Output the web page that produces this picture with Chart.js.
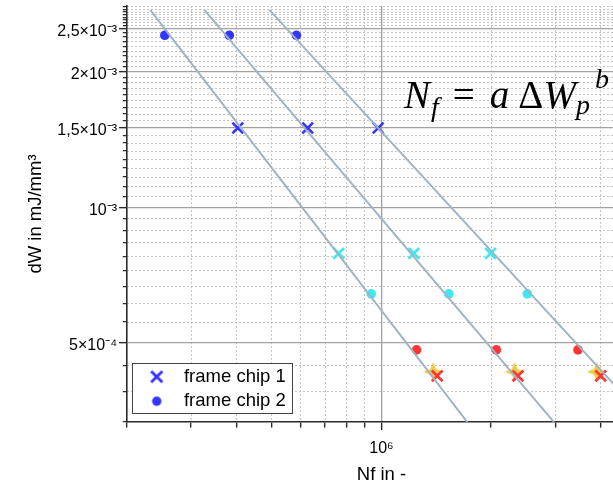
<!DOCTYPE html>
<html><head><meta charset="utf-8">
<script src="https://cdn.jsdelivr.net/npm/chart.js@4.4.1/dist/chart.umd.min.js"></script>
<style>
html,body{margin:0;padding:0;background:#fff;overflow:hidden;width:613px;height:488px;position:relative}
#wrap{position:absolute;left:0;top:0;width:636px;height:488px}
#eq{position:absolute;left:404px;top:75px;font-family:'Liberation Serif',serif;font-size:39px;line-height:40px;white-space:nowrap;color:#000}
#eq i{font-style:italic}
#eq .s1{font-size:28px;position:relative;top:8px;margin-left:1px}
#eq .op{margin:0 15px 0 14px}
#eq .dl{margin-left:9px}
#eq .s2{font-size:28px;position:relative;top:6px}
#eq .s3{font-size:28px;position:relative;top:-20px;margin-left:5px}
</style></head><body>
<div id="wrap"><canvas id="c" width="636" height="488"></canvas></div>
<div id="eq"><i>N</i><i class="s1">f</i><span class="op">=</span><i>a</i><span class="dl">Δ</span><i>W</i><i class="s2">p</i><i class="s3">b</i></div>
<script>
// ---- axis ranges & ticks ----
const xRange = [2e5, 5e6];
const yRange = [3.3333e-4, 2.8e-3];
const xMajorTicks = [1e6];
const xMajorLabels = ['10⁶'];
const xMinorTicks = [2e5, 3e5, 4e5, 5e5, 6e5, 7e5, 8e5, 9e5, 2e6, 3e6, 4e6];
const yMajorTicks = [5e-4, 1e-3, 1.5e-3, 2e-3, 2.5e-3];
const yMajorLabels = ['5×10⁻⁴', '10⁻³', '1,5×10⁻³', '2×10⁻³', '2,5×10⁻³'];
const yMinorPerMajor = 9;       // subdivisions between major ticks
const yMinorTopStep = 0.5e-3 / 14;

// ---- series ----
const chip1X = [4.03e5, 6.27e5, 9.79e5];
const chip1Y = [1.5e-3, 1.5e-3, 1.5e-3];
const chip2X = [2.54e5, 3.82e5, 5.84e5];
const chip2Y = [2.41e-3, 2.41e-3, 2.41e-3];
const cyanCrossX = [7.63e5, 1.227e6, 1.993e6];
const cyanCrossY = [7.90e-4, 7.90e-4, 7.90e-4];
const cyanDotX = [9.37e5, 1.531e6, 2.515e6];
const cyanDotY = [6.42e-4, 6.42e-4, 6.42e-4];
const redDotX = [1.248e6, 2.067e6, 3.464e6];
const redDotY = [4.82e-4, 4.82e-4, 4.82e-4];
const redCrossX = [1.422e6, 2.370e6, 4.0e6];
const redCrossY = [4.22e-4, 4.22e-4, 4.22e-4];
const starX = [1.387e6, 2.321e6, 3.90e6];
const starY = [4.31e-4, 4.31e-4, 4.31e-4];
const fit1X = [2.317e5, 1.72e6];
const fit1Y = [2.746e-3, 3.332e-4];
const fit2X = [3.262e5, 2.976e6];
const fit2Y = [2.746e-3, 3.332e-4];
const fit3X = [4.92e5, 4.5e6];
const fit3Y = [2.746e-3, 3.923e-4];
const legendLabels = ['frame chip 1', 'frame chip 2'];

// ---- derived tick lists ----
function subdiv(a, b, n) { const o = []; for (let k = 1; k < n; k++) o.push(a + (b - a) * k / n); return o; }
let yMinorTicks = [yRange[0], 3.8889e-4, 4.4444e-4];
for (let i = 0; i < yMajorTicks.length - 1; i++) yMinorTicks = yMinorTicks.concat(subdiv(yMajorTicks[i], yMajorTicks[i + 1], yMinorPerMajor));
for (let v = 2.5e-3 + yMinorTopStep; v < yRange[1]; v += yMinorTopStep) yMinorTicks.push(v);
const isMajorY = v => yMajorTicks.some(m => Math.abs(m - v) / m < 1e-6);
const isMajorX = v => xMajorTicks.some(m => Math.abs(m - v) / m < 1e-6);

const pts = (xs, ys) => xs.map((x, i) => ({x, y: ys[i]}));

// ---- marker images ----
function mk(w, h, fn) { const c = document.createElement('canvas'); c.width = w; c.height = h; fn(c.getContext('2d')); return c; }
const BLUE = '#3434ff', CYAN = '#3fe9f3', RED = '#ff3434', FITC = 'rgb(158,180,197)';
const crossImg = mk(16, 16, g => { g.strokeStyle = BLUE; g.lineWidth = 2.8; g.beginPath(); g.moveTo(2.4, 2.4); g.lineTo(13.6, 13.6); g.moveTo(13.6, 2.4); g.lineTo(2.4, 13.6); g.stroke(); });
const dotImg = mk(12, 12, g => { g.fillStyle = BLUE; g.beginPath(); g.arc(6, 6, 4.7, 0, Math.PI * 2); g.fill(); });
const starImg = mk(22, 22, g => {
  g.fillStyle = 'rgba(232,192,28,0.82)'; g.beginPath();
  const cx = 11, cy = 11, R = 10, r = 4;
  for (let k = 0; k < 8; k++) { const a = -Math.PI / 2 + k * Math.PI / 4; const rr = k % 2 ? r : R; const px = cx + rr * Math.cos(a), py = cy + rr * Math.sin(a); k ? g.lineTo(px, py) : g.moveTo(px, py); }
  g.closePath(); g.fill();
});

Chart.defaults.font.family = "'Liberation Sans', Arial, sans-serif";
Chart.defaults.color = '#000';

const legendPlacer = {
  id: 'legendPlacer',
  afterLayout(chart) {
    const lg = chart.legend; if (!lg) return;
    lg.left = 132.7; lg.top = 361.5; lg.width = 200; lg.height = 120;
    lg.right = lg.left + lg.width; lg.bottom = lg.top + lg.height;
    if (!lg._boxPatched) {
      const orig = lg.draw;
      lg.draw = function (area) {
        const ctx = this.ctx; ctx.save();
        ctx.fillStyle = '#fff'; ctx.fillRect(132.5, 363.5, 160, 50);
        ctx.strokeStyle = '#444'; ctx.lineWidth = 1; ctx.strokeRect(132.5, 363.5, 160, 50);
        ctx.restore();
        orig.call(this, area);
      };
      lg._boxPatched = true;
    }
  }
};

const lineDs = (xs, ys, lbl) => ({ label: lbl, data: pts(xs, ys), showLine: true, borderColor: FITC, borderWidth: 2, pointRadius: 0, fill: false });
const markDs = (xs, ys, lbl, style, color, r) => ({
  label: lbl, data: pts(xs, ys), pointStyle: style, pointRadius: r,
  borderColor: color, backgroundColor: color, borderWidth: style === 'circle' ? 0 : 2.6
});
const tickFontY = c => (c.tick && isMajorY(c.tick.value)) ? { size: 16 } : { size: 1 };
const tickFontX = c => (c.tick && isMajorX(c.tick.value)) ? { size: 16 } : { size: 1 };

new Chart(document.getElementById('c'), {
  type: 'scatter',
  data: {
    datasets: [
      lineDs(fit1X, fit1Y, 'fit 1'),
      lineDs(fit2X, fit2Y, 'fit 2'),
      lineDs(fit3X, fit3Y, 'fit 3'),
      markDs(redCrossX, redCrossY, 'red crosses', 'crossRot', RED, 7.6),
      markDs(starX, starY, 'stars', starImg, '#e8c01c', 9),
      markDs(chip1X, chip1Y, legendLabels[0], 'crossRot', BLUE, 7.6),
      markDs(chip2X, chip2Y, legendLabels[1], 'circle', BLUE, 4.8),
      markDs(cyanCrossX, cyanCrossY, 'cyan crosses', 'crossRot', CYAN, 7.6),
      markDs(cyanDotX, cyanDotY, 'cyan dots', 'circle', CYAN, 4.8),
      markDs(redDotX, redDotY, 'red dots', 'circle', RED, 4.8)
    ]
  },
  options: {
    responsive: false, animation: false, events: [],
    layout: { autoPadding: false, padding: { top: 6, right: 0, left: 0, bottom: 0 } },
    plugins: {
      tooltip: { enabled: false },
      legend: {
        position: 'chartArea', align: 'start',
        labels: {
          usePointStyle: true, pointStyleWidth: 36, boxHeight: 12, padding: 6,
          font: { size: 18.5 }, color: '#000',
          generateLabels: () => [
            { text: legendLabels[0], pointStyle: crossImg, fillStyle: BLUE, strokeStyle: BLUE, lineWidth: 0, hidden: false, datasetIndex: 5 },
            { text: legendLabels[1], pointStyle: dotImg, fillStyle: BLUE, strokeStyle: BLUE, lineWidth: 0, hidden: false, datasetIndex: 6 }
          ]
        }
      }
    },
    scales: {
      x: {
        type: 'logarithmic', position: 'bottom', min: xRange[0], max: xRange[1], bounds: 'data',
        afterBuildTicks: s => { s.ticks = xMinorTicks.concat(xMajorTicks).sort((a, b) => a - b).map(v => ({ value: v })); },
        afterFit: s => { s.height = 66; },
        ticks: { autoSkip: false, maxRotation: 0, padding: 9, font: tickFontX, color: '#000',
          callback: v => { const i = xMajorTicks.findIndex(m => Math.abs(m - v) / m < 1e-6); return i >= 0 ? xMajorLabels[i] : ''; } },
        grid: {
          color: c => (c.tick && isMajorX(c.tick.value)) ? '#a2a2a2' : 'rgba(0,0,0,0)',
          lineWidth: 1.3, tickLength: 8, tickColor: '#2a2a2a', tickWidth: 1.4,
          tickBorderDash: c => (c.tick && isMajorX(c.tick.value)) ? [] : [5, 20]
        },
        border: { color: '#2a2a2a', width: 1.6 },
        title: { display: true, text: 'Nf in -', font: { size: 18.5 }, color: '#000', padding: { top: 0, bottom: 2 } }
      },
      xMinor: {
        axis: 'x', type: 'logarithmic', position: 'bottom', min: xRange[0], max: xRange[1], bounds: 'data',
        afterBuildTicks: s => { s.ticks = xMinorTicks.filter(v => v > xRange[0]).map(v => ({ value: v })); },
        afterFit: s => { s.height = 0; },
        ticks: { display: false, autoSkip: false },
        grid: { color: '#c4c4c4', lineWidth: 1, drawTicks: false },
        border: { display: false, dash: [2, 2] }
      },
      y: {
        type: 'logarithmic', position: 'left', min: yRange[0], max: yRange[1], bounds: 'data',
        afterBuildTicks: s => { s.ticks = yMinorTicks.concat(yMajorTicks).sort((a, b) => a - b).map(v => ({ value: v })); },
        afterFit: s => { s.width = 127; },
        ticks: { autoSkip: false, padding: 2, labelOffset: 3, font: tickFontY, color: '#000',
          callback: v => { const i = yMajorTicks.findIndex(m => Math.abs(m - v) / m < 1e-6); return i >= 0 ? yMajorLabels[i] : ''; } },
        grid: {
          color: c => (c.tick && isMajorY(c.tick.value)) ? '#a2a2a2' : 'rgba(0,0,0,0)',
          lineWidth: 1.3, tickLength: 8, tickColor: '#2a2a2a', tickWidth: 1.4,
          tickBorderDash: c => (c.tick && isMajorY(c.tick.value)) ? [] : [0, 3.8, 10, 0]
        },
        border: { color: '#2a2a2a', width: 1.6 },
        title: { display: true, text: 'dW in mJ/mm³', font: { size: 18.5 }, color: '#000', padding: { top: 25, bottom: 0 } }
      },
      yMinor: {
        axis: 'y', type: 'logarithmic', position: 'left', min: yRange[0], max: yRange[1], bounds: 'data',
        afterBuildTicks: s => { s.ticks = yMinorTicks.filter(v => v > yRange[0] * 1.001).map(v => ({ value: v })); },
        afterFit: s => { s.width = 0; },
        ticks: { display: false, autoSkip: false },
        grid: { color: '#c4c4c4', lineWidth: 1, drawTicks: false },
        border: { display: false, dash: [2, 2] }
      }
    }
  },
  plugins: [legendPlacer]
});
</script>
</body></html>
